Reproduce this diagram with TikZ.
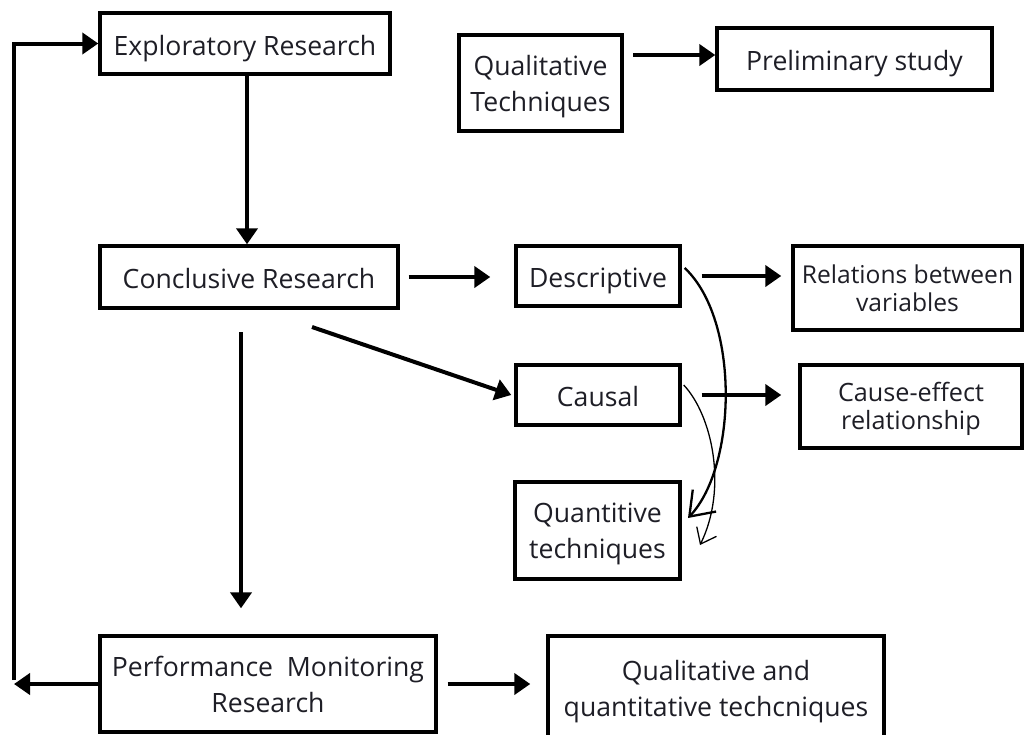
\documentclass[tikz,border=0pt]{standalone}
\usepackage{fontspec}
\setmainfont{Open Sans}
\usetikzlibrary{arrows.meta}
\definecolor{txt}{RGB}{30,30,38}
\newcommand\toppad[1]{\rule{0pt}{#1}}
\begin{document}
\begin{tikzpicture}[x=1pt,y=-1pt,
  box/.style={draw=black, line width=3.4pt, rectangle, inner sep=0pt, align=center, text=txt, font=\fontsize{26.6}{36}\selectfont},
  one/.style={text height=24pt, text depth=1pt},
  tight/.style={font=\fontsize{24.6}{28}\selectfont},
  arr/.style={line width=4pt, -{Triangle[length=16pt,width=21pt]}},
  thickcurve/.style={line width=2.3pt, -{Straight Barb[length=22pt,width=32pt]}},
  thincurve/.style={line width=1.3pt, -{Straight Barb[length=14pt,width=22pt]}}
]
\useasboundingbox[fill=white] (0,0) rectangle (1024,734);

\node[box, one, minimum width=290pt, minimum height=61pt] (expl) at (245,43.5) {Exploratory Research};
\node[box, minimum width=163pt, minimum height=96pt] (qualT) at (540.5,83) {\toppad{28pt}Qualitative\\Techniques};
\node[box, one, minimum width=275pt, minimum height=62pt] (prelim) at (854.5,59) {Preliminary study};
\node[box, one, minimum width=298pt, minimum height=62pt] (concl) at (249,277) {Conclusive Research};
\node[box, one, minimum width=164pt, minimum height=60pt] (desc) at (598,276) {Descriptive};
\node[box, tight, minimum width=229pt, minimum height=84pt] (rel) at (907.5,288) {Relations between\\variables};
\node[box, one, minimum width=164pt, minimum height=60pt] (causal) at (598,395) {Causal};
\node[box, tight, font=\fontsize{25.2}{28}\selectfont, minimum width=222pt, minimum height=83pt] (cause) at (911,406.5) {\toppad{25pt}Cause-effect\\relationship};
\node[box, minimum width=165pt, minimum height=97pt] (quant) at (597.5,530.5) {\toppad{25.5pt}Quantitive\\techniques};
\node[box, minimum width=336pt, minimum height=96pt] (pmr) at (268,684) {Performance\ \ Monitoring\\Research};
\node[box, minimum width=336pt, minimum height=104pt] (qq) at (716,688) {\toppad{26.5pt}Qualitative and\\quantitative techcniques};

\coordinate (lc) at (14,684);
\coordinate (lv) at (14,680);
\coordinate (tc) at (14,43.5);
\coordinate (q1) at (633,55);
\coordinate (d1) at (312,327);
\coordinate (v1) at (241,332);
\coordinate (qt1) at (688,518);
\coordinate (qt2) at (700,545);

\draw[arr] (pmr.west) -- (lc);
\draw[arr] (lv) -- (tc) -- (expl.west);
\draw[arr] ([xshift=2pt]expl.south) -- ([xshift=2pt]expl.south |- concl.north);
\draw[arr] (q1) -- (q1 -| prelim.west);
\draw[arr] ([xshift=9pt]concl.east) -- ([xshift=-24pt]concl.east -| desc.west);
\draw[arr] (d1) -- ([xshift=-3pt]causal.west);
\draw[arr] (v1) -- ([yshift=26pt]v1 |- pmr.north);
\draw[arr] ([xshift=10pt]pmr.east) -- ([xshift=-16pt]pmr.east -| qq.west);
\draw[arr] ([xshift=20pt]desc.east) -- ([xshift=-10pt]desc.east -| rel.west);
\draw[arr] ([xshift=20pt]causal.east) -- ([xshift=-17pt]causal.east -| cause.west);

\draw[thickcurve] ([shift={(3,-8)}]desc.east) .. controls (740,320) and (737,466) .. (qt1);
\draw[thincurve] ([shift={(2,-10)}]causal.east) .. controls (712,415) and (728,488) .. (qt2);
\end{tikzpicture}
\end{document}
